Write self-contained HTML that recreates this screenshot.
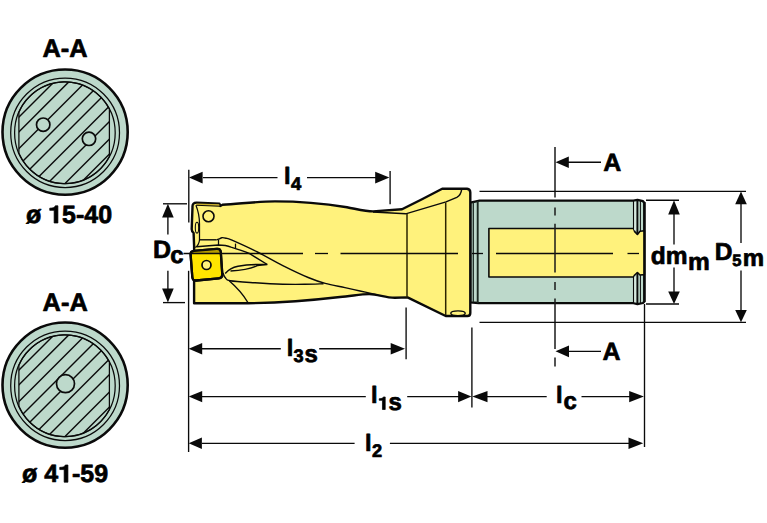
<!DOCTYPE html>
<html><head><meta charset="utf-8"><title>Drill dimensions</title>
<style>
html,body{margin:0;padding:0;background:#fff;}
body{width:767px;height:523px;overflow:hidden;font-family:"Liberation Sans",sans-serif;}
svg{display:block;}
</style></head>
<body>
<svg width="767" height="523" viewBox="0 0 767 523">
<rect width="767" height="523" fill="#ffffff"/>
<circle cx="65.1" cy="132.1" r="62.6" fill="#BDD9CB" stroke="#0a0a0a" stroke-width="2.6"/>
<ellipse cx="65.1" cy="132.75" rx="54.4" ry="54.75" fill="none" stroke="#0a0a0a" stroke-width="1.25"/>
<ellipse cx="64.89999999999999" cy="132.75" rx="50.3" ry="50.9" fill="none" stroke="#0a0a0a" stroke-width="1.25"/>
<clipPath id="clip132"><path d="M 18.90,112.16 A 50.3,50.9 0 0 1 109.40,109.02 L 109.40,156.48 A 50.3,50.9 0 0 1 18.90,153.34 Z"/></clipPath>
<path d="M 18.90,112.16 A 50.3,50.9 0 0 1 109.40,109.02 L 109.40,156.48 A 50.3,50.9 0 0 1 18.90,153.34 Z" fill="none" stroke="#0a0a0a" stroke-width="1.25"/>
<g clip-path="url(#clip132)" stroke="#0a0a0a" stroke-width="1.45">
<line x1="5.10" y1="130.90" x2="125.10" y2="10.90"/>
<line x1="5.10" y1="145.60" x2="125.10" y2="25.60"/>
<line x1="5.10" y1="162.40" x2="125.10" y2="42.40"/>
<line x1="5.10" y1="178.90" x2="125.10" y2="58.90"/>
<line x1="5.10" y1="193.90" x2="125.10" y2="73.90"/>
<line x1="5.10" y1="210.40" x2="125.10" y2="90.40"/>
<line x1="5.10" y1="225.90" x2="125.10" y2="105.90"/>
<line x1="5.10" y1="243.40" x2="125.10" y2="123.40"/>
<line x1="5.10" y1="258.40" x2="125.10" y2="138.40"/>
</g>
<circle cx="43.2" cy="124.7" r="6.7" fill="#BDD9CB" stroke="#0a0a0a" stroke-width="1.7"/>
<circle cx="89.0" cy="138.8" r="6.7" fill="#BDD9CB" stroke="#0a0a0a" stroke-width="1.7"/>
<circle cx="65.1" cy="385.1" r="62.6" fill="#BDD9CB" stroke="#0a0a0a" stroke-width="2.6"/>
<ellipse cx="65.1" cy="385.75" rx="54.4" ry="54.75" fill="none" stroke="#0a0a0a" stroke-width="1.25"/>
<ellipse cx="64.89999999999999" cy="385.75" rx="50.3" ry="50.9" fill="none" stroke="#0a0a0a" stroke-width="1.25"/>
<clipPath id="clip385"><path d="M 18.90,365.16 A 50.3,50.9 0 0 1 109.40,362.02 L 109.40,409.48 A 50.3,50.9 0 0 1 18.90,406.34 Z"/></clipPath>
<path d="M 18.90,365.16 A 50.3,50.9 0 0 1 109.40,362.02 L 109.40,409.48 A 50.3,50.9 0 0 1 18.90,406.34 Z" fill="none" stroke="#0a0a0a" stroke-width="1.25"/>
<g clip-path="url(#clip385)" stroke="#0a0a0a" stroke-width="1.45">
<line x1="5.10" y1="383.90" x2="125.10" y2="263.90"/>
<line x1="5.10" y1="398.60" x2="125.10" y2="278.60"/>
<line x1="5.10" y1="415.40" x2="125.10" y2="295.40"/>
<line x1="5.10" y1="431.90" x2="125.10" y2="311.90"/>
<line x1="5.10" y1="446.90" x2="125.10" y2="326.90"/>
<line x1="5.10" y1="463.40" x2="125.10" y2="343.40"/>
<line x1="5.10" y1="478.90" x2="125.10" y2="358.90"/>
<line x1="5.10" y1="496.40" x2="125.10" y2="376.40"/>
<line x1="5.10" y1="511.40" x2="125.10" y2="391.40"/>
</g>
<circle cx="65.5" cy="383.7" r="9.0" fill="#BDD9CB" stroke="#0a0a0a" stroke-width="1.7"/>

<!-- shank -->
<path d="M470.3,202.7 L479.6,200.6 L633.5,200.6 L637.5,199.9 L643,201.2 L644.4,203 L644.4,301.5 L643,303 L637.5,304.2 L633.5,303.2 L478.5,303 L470.3,302.4 Z" fill="#BDD9CB" stroke="#0a0a0a" stroke-width="2.3" stroke-linejoin="round"/>
<!-- yellow flat -->
<path d="M488.9,228.5 L633.5,228.5 L634.7,231.6 L637.4,234.4 L640,231.2 L644.4,230.8 L644.4,274.6 L640,275 L637.4,272.5 L634.7,275 L633.5,277 L488.9,277 Z" fill="#FFF27C" stroke="#0a0a0a" stroke-width="1.6" stroke-linejoin="round"/>
<!-- neck lines -->
<line x1="473.3" y1="202.3" x2="473.3" y2="302.3" stroke="#1c2a22" stroke-width="1.3"/>
<line x1="477.7" y1="201" x2="477.7" y2="303" stroke="#1c2a22" stroke-width="1.9"/>
<!-- collar right -->
<rect x="634.1" y="201.8" width="2.3" height="28.5" fill="#D6E8DF"/>
<rect x="634.1" y="276.5" width="2.3" height="25.8" fill="#D6E8DF"/>
<line x1="633.5" y1="201" x2="633.5" y2="228.5" stroke="#0a0a0a" stroke-width="1.1"/>
<line x1="633.5" y1="277" x2="633.5" y2="303" stroke="#0a0a0a" stroke-width="1.1"/>
<line x1="637.4" y1="200" x2="637.4" y2="234.2" stroke="#0a0a0a" stroke-width="1.9"/>
<line x1="637.4" y1="272.7" x2="637.4" y2="304.3" stroke="#0a0a0a" stroke-width="1.9"/>
<line x1="640.4" y1="201" x2="640.4" y2="231.2" stroke="#0a0a0a" stroke-width="1"/>
<line x1="640.4" y1="275" x2="640.4" y2="303.5" stroke="#0a0a0a" stroke-width="1"/>
<line x1="644.4" y1="202" x2="644.4" y2="302" stroke="#0a0a0a" stroke-width="2.3"/>

<!-- body -->
<path d="M192.5,207 Q192.3,202.6 196.5,202.6 L219.4,203.6 L220.3,206 L222.5,204.8
 C240,203.8 258,201.4 275,201.4 C300,201.4 330,204.5 347,207.2 C358,209.3 366,211.4 373,211.4
 L402,209.2 L422,199.2 L442.2,188.8 L467,188.8 Q470.3,189.3 470.3,192.6
 L470.3,313 Q470.3,316 467.5,316 L445.7,316 L407.5,297.4 L394.8,297.7
 C385,297.7 378,294.1 369.2,294.1 C360,294.1 350,296.5 340,297
 C310,300.5 275,303.3 240,303.3 L194.1,303.3 L194.1,246 L193.6,233 Q191.6,231 191.7,229 Z"
 fill="#FFF27C" stroke="#0a0a0a" stroke-width="2.4" stroke-linejoin="round"/>
<!-- inner flange line -->
<path d="M373,212 L405.7,213.8 L446,201.9 L456.8,197.3 Q461,195 461.6,189.6" fill="none" stroke="#0a0a0a" stroke-width="1.4"/>
<line x1="407" y1="213.8" x2="407" y2="297.4" stroke="#2b2400" stroke-width="1.5"/>
<line x1="445.7" y1="202.5" x2="445.7" y2="315" stroke="#2b2400" stroke-width="1.5"/>
<ellipse cx="458" cy="313.3" rx="7.2" ry="2.4" fill="#FFF27C" stroke="#0a0a0a" stroke-width="1.4"/>

<!-- tip details -->
<path d="M196.2,203.4 L219.2,204.2 L219.6,206.2 L197,205.4 Z" fill="#C9AE2A" stroke="none"/>
<path d="M196,205.3 L219.8,206.3" stroke="#0a0a0a" stroke-width="1.1" fill="none"/>
<path d="M195.9,205.3 Q199.5,214 199.5,224 L199.5,240 Q199,245 195.3,247.5" fill="none" stroke="#0a0a0a" stroke-width="1.25"/>
<ellipse cx="197" cy="227.7" rx="1.7" ry="5.4" fill="none" stroke="#0a0a0a" stroke-width="1.1"/>
<circle cx="208.5" cy="216.3" r="5.5" fill="#FFF27C" stroke="#0a0a0a" stroke-width="1.6"/>
<path d="M199.4,239.8 L216.5,239.8 " fill="none" stroke="#0a0a0a" stroke-width="1.4"/>
<path d="M216.50,239.80 C217.00,239.63 218.62,239.15 219.50,238.80 C220.38,238.45 220.72,237.80 221.80,237.70 C222.88,237.60 224.30,237.78 226.00,238.20 C227.70,238.62 226.77,237.90 232.00,240.20 C237.23,242.50 248.93,247.77 257.40,252.00 C265.87,256.23 274.33,261.35 282.80,265.60 C291.27,269.85 301.13,274.53 308.20,277.50 C315.27,280.47 319.07,281.72 325.20,283.40 C331.33,285.08 339.20,286.33 345.00,287.60 C350.80,288.87 354.75,289.83 360.00,291.00 C365.25,292.17 373.75,294.00 376.50,294.60" fill="none" stroke="#0a0a0a" stroke-width="1.4"/>
<path d="M196.5,246.8 L218.3,245 Q226,245 231,247.2 Q242,250.5 249.3,253.5 L267.3,264.5" fill="none" stroke="#0a0a0a" stroke-width="1.4"/>
<line x1="218.5" y1="239.8" x2="218.5" y2="245" stroke="#0a0a0a" stroke-width="1.25"/>
<line x1="235.5" y1="243.6" x2="235.5" y2="248.6" stroke="#0a0a0a" stroke-width="1.25"/>
<!-- leaf -->
<path d="M225.2,273.5 Q230,268 238,266.3 Q250,264 267.3,264.5 Q262,264.8 257.3,265.6 Q248,270 230.5,271" fill="none" stroke="#0a0a0a" stroke-width="1.4"/>
<path d="M223.00,273.00 C223.37,273.75 223.98,276.20 225.20,277.50 C226.42,278.80 225.33,279.92 230.30,280.80 C235.27,281.68 246.25,282.23 255.00,282.80 C263.75,283.37 274.47,283.95 282.80,284.20 C291.13,284.45 298.22,284.37 305.00,284.30 C311.78,284.23 320.42,283.88 323.50,283.80" fill="none" stroke="#0a0a0a" stroke-width="1.4"/>
<path d="M229.2,280.8 Q241,291 247.9,302.5" fill="none" stroke="#0a0a0a" stroke-width="1.4"/>

<!-- insert -->
<path d="M194.2,250.8 L216.8,248.9 Q220.5,248.6 220.8,252.3 L222.3,274.4 Q222.5,278 218.8,278.4 L196.3,280.5 Q192.6,280.8 192.3,277 L190.6,254.6 Q190.4,251.1 194.2,250.8 Z" fill="#FFE500" stroke="#0a0a0a" stroke-width="2.3" stroke-linejoin="round"/>
<path d="M191.4,251.5 L220.3,249.3 L220.6,253.6 L191.6,253.6 Z" fill="#B89E00"/>
<path d="M194.2,250.8 L216.8,248.9 Q220.5,248.6 220.8,252.3 L222.3,274.4 Q222.5,278 218.8,278.4 L196.3,280.5 Q192.6,280.8 192.3,277 L190.6,254.6 Q190.4,251.1 194.2,250.8 Z" fill="none" stroke="#0a0a0a" stroke-width="2.3" stroke-linejoin="round"/>
<circle cx="206.5" cy="265" r="4.5" fill="#FFF27C" stroke="#0a0a0a" stroke-width="1.7"/>


<g stroke="#0a0a0a" stroke-width="1.3" fill="none">
<line x1="183.5" y1="253.5" x2="303" y2="253.5"/>
<line x1="315" y1="253.5" x2="328" y2="253.5"/>
<line x1="340.5" y1="253.5" x2="458" y2="253.5"/>
<line x1="472" y1="253.5" x2="483" y2="253.5"/>
<line x1="496" y1="253.5" x2="613" y2="253.5"/>
<line x1="627.5" y1="253.5" x2="639" y2="253.5"/>
</g>
<g stroke="#1a1a1a" stroke-width="1.5" fill="none">
<line x1="555" y1="147" x2="555" y2="197.6"/>
<line x1="555" y1="207.4" x2="555" y2="215.5"/>
<line x1="555" y1="223.7" x2="555" y2="272.4"/>
<line x1="555" y1="282" x2="555" y2="290"/>
<line x1="555" y1="298.5" x2="555" y2="349"/>
<line x1="555" y1="357.4" x2="555" y2="366.6"/>
</g>


<g stroke="#0a0a0a" stroke-width="1.35" fill="none">
<!-- ext lines -->
<line x1="188.8" y1="169.8" x2="188.8" y2="222.5"/>
<line x1="188.6" y1="270.8" x2="188.6" y2="452"/>
<line x1="390.1" y1="171" x2="390.1" y2="204.3"/>
<line x1="406.1" y1="307.4" x2="406.1" y2="359.3"/>
<line x1="471.9" y1="327.5" x2="471.9" y2="407.5"/>
<line x1="644.5" y1="304" x2="644.5" y2="447"/>
<line x1="163" y1="203.8" x2="187" y2="203.8"/>
<line x1="163" y1="302.6" x2="185" y2="302.6"/>
<line x1="479.5" y1="191.4" x2="746" y2="191.4"/>
<line x1="479.5" y1="322.4" x2="746" y2="322.4"/>
<line x1="646" y1="200.2" x2="679" y2="200.2"/>
<line x1="646" y1="304" x2="679" y2="304"/>
<!-- l4 -->
<line x1="203" y1="177.6" x2="277.5" y2="177.6"/>
<line x1="307" y1="177.6" x2="376" y2="177.6"/>
<!-- Dc -->
<line x1="167.9" y1="217" x2="167.9" y2="234.6"/>
<line x1="167.9" y1="270.8" x2="167.9" y2="289"/>
<!-- l3s -->
<line x1="202" y1="348.7" x2="280.8" y2="348.7"/>
<line x1="319.2" y1="348.7" x2="391" y2="348.7"/>
<!-- l1s -->
<line x1="202" y1="396.6" x2="365.8" y2="396.6"/>
<line x1="407.2" y1="396.6" x2="459" y2="396.6"/>
<!-- lc -->
<line x1="486" y1="396.6" x2="546.7" y2="396.6"/>
<line x1="581.5" y1="396.6" x2="630.5" y2="396.6"/>
<!-- l2 -->
<line x1="202" y1="443.3" x2="354.6" y2="443.3"/>
<line x1="389.9" y1="443.3" x2="630.5" y2="443.3"/>
<!-- dmm -->
<line x1="674" y1="213" x2="674" y2="244.5"/>
<line x1="674" y1="267.5" x2="674" y2="292"/>
<!-- D5m -->
<line x1="741" y1="204" x2="741" y2="243"/>
<line x1="741" y1="270.4" x2="741" y2="310.5"/>
<!-- A arrows -->
<line x1="568" y1="162.2" x2="601" y2="162.2"/>
<line x1="568" y1="351.3" x2="601" y2="351.3"/>
</g>

<polygon points="189.0,177.6 202.6,171.79999999999998 202.6,183.4" fill="#0a0a0a"/>
<polygon points="389.4,177.6 375.2,171.79999999999998 375.2,183.4" fill="#0a0a0a"/>
<polygon points="188.7,348.7 202.2,342.9 202.2,354.5" fill="#0a0a0a"/>
<polygon points="405.0,348.7 390.7,343.0 390.7,354.4" fill="#0a0a0a"/>
<polygon points="188.7,396.6 202.2,390.90000000000003 202.2,402.3" fill="#0a0a0a"/>
<polygon points="471.4,396.6 458.09999999999997,390.90000000000003 458.09999999999997,402.3" fill="#0a0a0a"/>
<polygon points="472.3,396.6 487.5,390.90000000000003 487.5,402.3" fill="#0a0a0a"/>
<polygon points="643.9,396.6 629.1999999999999,391.0 629.1999999999999,402.20000000000005" fill="#0a0a0a"/>
<polygon points="188.7,443.3 201.89999999999998,437.6 201.89999999999998,449.0" fill="#0a0a0a"/>
<polygon points="643.2,443.3 628.5,437.6 628.5,449.0" fill="#0a0a0a"/>
<polygon points="555.5,162.2 568.8,156.39999999999998 568.8,168.0" fill="#0a0a0a"/>
<polygon points="555.5,351.3 569.0,345.40000000000003 569.0,357.2" fill="#0a0a0a"/>
<polygon points="167.9,203.8 162.1,217.60000000000002 173.70000000000002,217.60000000000002" fill="#0a0a0a"/>
<polygon points="167.9,302.6 162.1,288.6 173.70000000000002,288.6" fill="#0a0a0a"/>
<polygon points="674,200.3 668.2,214.60000000000002 679.8,214.60000000000002" fill="#0a0a0a"/>
<polygon points="674,304 668.2,291.5 679.8,291.5" fill="#0a0a0a"/>
<polygon points="741,191.5 735.2,204.3 746.8,204.3" fill="#0a0a0a"/>
<polygon points="741,322.3 735.2,310.0 746.8,310.0" fill="#0a0a0a"/>
<g font-family="Liberation Sans, sans-serif" font-weight="bold" text-rendering="geometricPrecision" fill="#000" stroke="#000" stroke-width="0.7" stroke-linejoin="round">
<text x="42.52" y="57.00" font-size="25.4">A-A</text>
<text x="42.62" y="310.70" font-size="25.4">A-A</text>
<text x="25.94" y="223.00" font-size="25" xml:space="preserve">ø </text><path transform="translate(48.15,223.00) scale(0.01221,-0.01221)" d="M800,0 L800,1409 L590,1409 C560,1280 420,1215 129,1215 L129,1035 L490,1035 L490,0 Z" stroke-width="57.3"/><text x="62.06" y="223.00" font-size="25" xml:space="preserve">5-40</text>
<text x="22.04" y="482.20" font-size="25" xml:space="preserve">ø 4</text><path transform="translate(58.16,482.20) scale(0.01221,-0.01221)" d="M800,0 L800,1409 L590,1409 C560,1280 420,1215 129,1215 L129,1035 L490,1035 L490,0 Z" stroke-width="57.3"/><text x="72.06" y="482.20" font-size="25" xml:space="preserve">-59</text>
<text x="603.13" y="170.60" font-size="25">A</text>
<text x="602.43" y="360.20" font-size="25">A</text>
<text x="284.10" y="184.40" font-size="23.6">l</text><text x="291.07" y="190.30" font-size="18.5">4</text>
<text x="152.98" y="257.50" font-size="25">D</text><text x="170.21" y="262.80" font-size="24">c</text>
<text x="286.70" y="356.40" font-size="23.6">l</text><text x="293.43" y="362.10" font-size="18.2">3</text><text x="304.61" y="362.10" font-size="24">s</text>
<text x="370.90" y="403.30" font-size="23.6">l</text><path transform="translate(378.10,409.50) scale(0.00889,-0.00889)" d="M800,0 L800,1409 L590,1409 C560,1280 420,1215 129,1215 L129,1035 L490,1035 L490,0 Z" stroke-width="78.8"/><text x="388.41" y="409.70" font-size="24">s</text>
<text x="556.10" y="402.70" font-size="23.6">l</text><text x="563.41" y="409.20" font-size="24">c</text>
<text x="364.90" y="451.00" font-size="23.6">l</text><text x="371.92" y="457.00" font-size="18.2">2</text>
<text x="650.75" y="264.20" font-size="24.5">dm</text><text x="687.94" y="269.70" font-size="24.5">m</text>
<text x="714.81" y="260.40" font-size="24.5">D</text><text x="732.34" y="266.20" font-size="16.5">5</text><text x="742.67" y="266.20" font-size="24">m</text>
</g>
</svg>
</body></html>
